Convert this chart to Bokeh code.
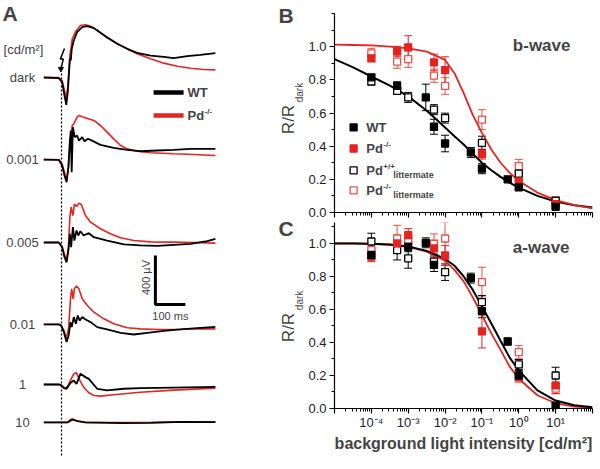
import math
import numpy as np
from bokeh.plotting import figure
from bokeh.layouts import row, column
from bokeh.models import (Range1d, Label, FixedTicker, PrintfTickFormatter,
                          CustomJSTickFormatter, Whisker, TeeHead, ColumnDataSource)
from bokeh.embed import file_html
from bokeh.resources import INLINE

FONT = "Liberation Sans"
RED = "#e52420"
RED_OPEN = "#ec5045"
BLACK = "#000000"

# ---------------- Panel A: ERG traces (time in ms, amplitude in uV) ----------------
row_labels = ["dark", "0.001", "0.005", "0.01", "1", "10"]

dark_wt_t = [-59, -9, 2, 10, 16, 21, 28, 31, 34, 41, 52, 69, 86, 108, 130, 152, 186, 219, 252, 297, 341, 374, 419, 463, 513]
dark_wt_v = [0, -6, -38, -147, -223, -120, 152, 140, 230, 302, 370, 411, 419, 403, 365, 329, 275, 234, 201, 179, 169, 158, 174, 185, 199]
dark_pd_t = [-59, -9, 2, 10, 15, 21, 28, 36, 47, 63, 80, 97, 119, 152, 186, 219, 252, 297, 341, 386, 430, 474, 513]
dark_pd_v = [0, 0, -25, -106, -174, -79, 179, 316, 375, 424, 430, 419, 384, 324, 275, 234, 193, 152, 117, 92, 76, 65, 62]

i001_wt_t = [-59, -9, 2, 10, 17, 23, 28, 31, 34, 38, 44, 52, 58, 69, 77, 88, 97, 130, 174, 219, 263, 319, 374, 430, 513]
i001_wt_v = [0, -2, -49, -130, -185, -62, 155, 237, -103, 264, 183, 196, 155, 183, 150, 169, 161, 120, 95, 79, 68, 74, 79, 87, 87]
i001_pd_t = [-59, -9, 2, 10, 17, 23, 30, 36, 41, 52, 58, 74, 108, 130, 152, 174, 197, 219, 252, 297, 374, 441, 513]
i001_pd_v = [0, -2, -35, -103, -171, -62, 183, 278, 292, 346, 360, 346, 319, 278, 224, 169, 115, 87, 68, 55, 47, 41, 33]

i005_wt_t = [-59, -9, 2, 10, 17, 23, 28, 32, 38, 43, 50, 56, 63, 74, 91, 108, 152, 208, 263, 319, 374, 430, 486, 513]
i005_wt_v = [0, 0, -38, -120, -163, -65, 71, -38, 125, 16, 98, 57, 92, 57, 76, 43, 16, -16, -24, -27, -19, -11, 11, 30]
i005_pd_t = [-59, -9, 2, 10, 17, 23, 28, 32, 38, 43, 50, 58, 66, 80, 97, 130, 163, 197, 241, 297, 374, 441, 513]
i005_pd_v = [0, 0, -33, -98, -142, -38, 207, 288, 220, 315, 294, 321, 310, 220, 166, 112, 71, 38, 16, 5, 3, 0, -5]

i01_wt_t = [-59, -9, -1, 8, 17, 24, 30, 34, 41, 48, 54, 61, 69, 80, 97, 119, 152, 197, 241, 286, 341, 397, 452, 513]
i01_wt_v = [0, 0, -8, -63, -144, -90, 19, -22, 60, 5, 73, 32, 60, 41, 19, -22, -41, -68, -82, -68, -52, -41, -30, -19]
i01_pd_t = [-59, -9, -1, 8, 17, 24, 30, 34, 39, 43, 50, 58, 69, 86, 108, 141, 174, 219, 263, 319, 374, 441, 513]
i01_pd_v = [0, 0, -14, -49, -112, -22, 209, 291, 209, 291, 313, 291, 209, 155, 100, 46, 5, -27, -36, -41, -41, -36, -36]

i1_wt_t = [-59, -9, -1, 8, 17, 24, 32, 41, 50, 63, 80, 91, 119, 152, 208, 263, 374, 513]
i1_wt_v = [0, 0, -5, -30, -35, -8, 19, 33, 5, 87, 60, 46, -35, -49, -35, -30, -25, -19]
i1_pd_t = [-59, -9, 2, 13, 21, 30, 41, 50, 61, 74, 91, 108, 130, 174, 263, 374, 513]
i1_pd_v = [0, 0, -14, -30, -14, 33, 87, 95, 33, -22, -68, -90, -95, -84, -63, -46, -30]

i10_wt_t = [-59, 20, 30, 38, 55, 80, 200, 300, 400, 513]
i10_wt_v = [0, 0, 15, 22, 10, 0, -5, -3, 5, 3]
i10_pd_t = [-59, 20, 28, 36, 50, 80, 200, 300, 400, 513]
i10_pd_v = [0, 0, 20, 30, 12, 0, 0, 2, 5, 5]

scale_bar_uV = 400
scale_bar_ms = 100

# ---------------- Panels B/C: R/Rdark vs background intensity ----------------
# b-wave
b_wt_x = [1e-4, 5e-4, 3e-3, 5e-3, 1e-2, 5e-2, 0.1, 0.5, 1, 10]
b_wt_y = [0.815, 0.763, 0.694, 0.517, 0.416, 0.362, 0.264, 0.20, 0.151, 0.034]
b_wt_e = [0.015, 0.025, 0.08, 0.045, 0.05, 0.03, 0.03, 0.01, 0.01, 0.01]
b_pd_x = [1e-4, 5e-4, 1e-3, 5e-3, 1e-2, 0.1, 1, 10]
b_pd_y = [0.93, 0.972, 0.996, 0.905, 0.859, 0.352, 0.187, 0.05]
b_pd_e = [0.02, 0.03, 0.07, 0.05, 0.08, 0.03, 0.02, 0.01]
b_wtl_x = [1e-4, 5e-4, 1e-3, 5e-3, 1e-2, 0.1, 1, 10]
b_wtl_y = [0.79, 0.734, 0.694, 0.62, 0.569, 0.42, 0.235, 0.07]
b_wtl_e = [0.02, 0.02, 0.03, 0.03, 0.03, 0.04, 0.02, 0.02]
b_pdl_x = [1e-4, 5e-4, 1e-3, 5e-3, 1e-2, 0.1, 1, 10]
b_pdl_y = [0.96, 0.91, 0.925, 0.825, 0.763, 0.56, 0.28, 0.075]
b_pdl_e = [0.03, 0.04, 0.05, 0.04, 0.05, 0.06, 0.04, 0.02]

# a-wave
c_wt_x = [1e-4, 1e-3, 3e-3, 5e-3, 5e-2, 0.1, 0.5, 1, 10]
c_wt_y = [0.93, 0.98, 1.004, 0.87, 0.79, 0.59, 0.406, 0.2, 0.018]
c_wt_e = [0.02, 0.03, 0.03, 0.04, 0.03, 0.04, 0.02, 0.03, 0.01]
c_pd_x = [1e-4, 5e-4, 1e-3, 5e-3, 1e-2, 0.1, 1, 10]
c_pd_y = [0.92, 1.0, 1.05, 0.97, 0.927, 0.467, 0.19, 0.14]
c_pd_e = [0.03, 0.05, 0.04, 0.05, 0.06, 0.1, 0.03, 0.05]
c_wtl_x = [1e-4, 5e-4, 1e-3, 5e-3, 1e-2, 0.1, 1, 10]
c_wtl_y = [1.012, 0.96, 0.91, 0.89, 0.826, 0.645, 0.267, 0.2]
c_wtl_e = [0.05, 0.06, 0.06, 0.04, 0.05, 0.04, 0.03, 0.05]
c_pdl_x = [1e-4, 5e-4, 1e-3, 5e-3, 1e-2, 0.1, 1, 10]
c_pdl_y = [0.96, 1.03, 1.02, 0.998, 1.03, 0.766, 0.341, 0.12]
c_pdl_e = [0.04, 0.08, 0.05, 0.06, 0.1, 0.09, 0.04, 0.03]

# fitted curves
fit_I = [1e-5, 3.2e-5, 1e-4, 3.2e-4, 1e-3, 3.2e-3, 1e-2, 1.8e-2, 3.2e-2, 5.6e-2, 0.1, 0.18, 0.32, 0.56, 1, 3.2, 10, 32, 100]
b_fit_wt = [0.925, 0.875, 0.82, 0.765, 0.70, 0.614, 0.513, 0.46, 0.41, 0.355, 0.30, 0.255, 0.215, 0.18, 0.15, 0.10, 0.066, 0.044, 0.03]
b_fit_pd = [1.012, 1.01, 1.008, 1.0, 0.99, 0.97, 0.92, 0.84, 0.72, 0.59, 0.48, 0.38, 0.30, 0.24, 0.19, 0.12, 0.075, 0.045, 0.025]
c_fit_wt = [1.0, 1.0, 0.998, 0.993, 0.982, 0.955, 0.907, 0.865, 0.80, 0.72, 0.62, 0.515, 0.41, 0.31, 0.23, 0.11, 0.048, 0.02, 0.008]
c_fit_pd = [1.0, 1.0, 0.998, 0.992, 0.98, 0.95, 0.895, 0.84, 0.77, 0.675, 0.565, 0.455, 0.355, 0.255, 0.18, 0.08, 0.032, 0.012, 0.004]

# ======================= Panel A (also hosts the left-side labels of B and C) =======================
A_X = (-203.3, 810.0)
A_Y = (32.6, 3828.4)
pa = figure(width=304, height=465, x_range=Range1d(*A_X), y_range=Range1d(*A_Y),
            x_axis_location=None, y_axis_location=None, output_backend="svg",
            toolbar_location=None, min_border=0)
pa.grid.visible = False
pa.outline_line_color = None

row_offsets = [3200, 2530, 1853, 1184, 694, 384]   # vertical stacking of the rows (uV)
traces = [(dark_wt_t, dark_wt_v, dark_pd_t, dark_pd_v),
          (i001_wt_t, i001_wt_v, i001_pd_t, i001_pd_v),
          (i005_wt_t, i005_wt_v, i005_pd_t, i005_pd_v),
          (i01_wt_t, i01_wt_v, i01_pd_t, i01_pd_v),
          (i1_wt_t, i1_wt_v, i1_pd_t, i1_pd_v),
          (i10_wt_t, i10_wt_v, i10_pd_t, i10_pd_v)]

# stimulus dotted line
pa.line([0, 0], [row_offsets[-1] - 270, row_offsets[0] + 100], line_color="black",
        line_width=1.3, line_dash="2 2")

for k, (lab, off, (wt_t, wt_v, pd_t, pd_v)) in enumerate(zip(row_labels, row_offsets, traces)):
    name = "r%d" % k
    pa.extra_y_ranges[name] = Range1d(A_Y[0] - off, A_Y[1] - off)
    pa.line(pd_t, pd_v, y_range_name=name, line_color=RED, line_width=1.6)
    pa.line(wt_t, wt_v, y_range_name=name, line_color=BLACK, line_width=1.8)
    pa.add_layout(Label(x=-130, y=0, y_range_name=name, text=lab, text_align="center",
                        text_baseline="middle", text_font=FONT, text_font_size="13px"))

# flash symbol
pa.line([10, -4, 6, -2], [3437, 3350, 3350, 3270], line_color="black", line_width=1.5)
pa.scatter([-2], [3270], marker="triangle", angle=math.pi, size=5, color="black")

pa.add_layout(Label(x=-197, y=3722, text="A", text_font=FONT, text_font_size="21px",
                    text_font_style="bold", text_baseline="middle"))
pa.add_layout(Label(x=-193, y=3428, text="[cd/m\u00b2]", text_font=FONT, text_font_size="13px",
                    text_baseline="middle"))

# legend of A
pa.line([307, 407], [3077, 3077], line_color=BLACK, line_width=4.5)
pa.line([307, 407], [2890, 2890], line_color=RED, line_width=4.5)
pa.add_layout(Label(x=420, y=3077, text="WT", text_font=FONT, text_font_size="13px",
                    text_font_style="bold", text_baseline="middle"))
pa.add_layout(Label(x=420, y=2890, text="Pd", text_font=FONT, text_font_size="13px",
                    text_font_style="bold", text_baseline="middle"))
pa.add_layout(Label(x=420, y=2890, x_offset=17, y_offset=4, text="-/-", text_font=FONT,
                    text_font_size="8px", text_font_style="bold", text_baseline="middle"))

# scale bar
sb_t, sb_v = 313, 1347
pa.line([sb_t, sb_t, sb_t + scale_bar_ms], [sb_v + scale_bar_uV, sb_v, sb_v],
        line_color="black", line_width=3)
pa.add_layout(Label(x=283, y=1567, text="400 \u00b5V", angle=math.pi / 2, text_align="center",
                    text_baseline="middle", text_font=FONT, text_font_size="11px"))
pa.add_layout(Label(x=363, y=1257, text="100 ms", text_align="center",
                    text_baseline="middle", text_font=FONT, text_font_size="11px"))

# panel letters and y-axis titles of B and C (placed in the gutter left of B/C)
pa.add_layout(Label(x=723, y=3706, text="B", text_font=FONT, text_font_size="21px",
                    text_font_style="bold", text_baseline="middle"))
pa.add_layout(Label(x=723, y=1971, text="C", text_font=FONT, text_font_size="21px",
                    text_font_style="bold", text_baseline="middle"))
for yc_main, yc_sub in [(2857, 3077), (1159, 1380)]:
    pa.add_layout(Label(x=757, y=yc_main, text="R/R", angle=math.pi / 2, text_align="center",
                        text_baseline="middle", text_font=FONT, text_font_size="17px"))
    pa.add_layout(Label(x=795, y=yc_sub, text="dark", angle=math.pi / 2, text_align="center",
                        text_baseline="middle", text_font=FONT, text_font_size="10px"))

# ======================= Panels B & C =======================
tick_js = """
const e = Math.round(Math.log10(tick));
if (e < -4 || e > 1) return "";
const sup = {"-": "\u207b", "0": "\u2070", "1": "\u00b9", "2": "\u00b2", "3": "\u00b3", "4": "\u2074"};
return "10" + String(e).split("").map(c => sup[c]).join("");
"""

major_x = [1e-5, 1e-4, 1e-3, 1e-2, 1e-1, 1, 10, 100]
minor_x = [m * 10.0 ** e for e in range(-5, 2) for m in range(2, 10)]


def style_axes(p, ytop):
    p.grid.visible = False
    p.outline_line_color = None
    p.background_fill_color = None
    p.yaxis.ticker = FixedTicker(ticks=[0, 0.2, 0.4, 0.6, 0.8, 1.0],
                                 minor_ticks=[round(0.1 * i, 1) for i in range(13) if 0.1 * i <= ytop + 1e-9])
    p.yaxis.formatter = PrintfTickFormatter(format="%.1f")
    for ax in (p.xaxis[0], p.yaxis[0]):
        ax.major_label_text_font = FONT
        ax.major_label_text_font_size = "13px"
        ax.major_label_text_color = "#222222"
        ax.major_tick_out = 5
        ax.major_tick_in = 0
        ax.minor_tick_out = 3
        ax.minor_tick_in = 0
        ax.axis_line_width = 1.2
        ax.major_tick_line_width = 1.2
    p.yaxis.major_label_standoff = 3
    p.xaxis.ticker = FixedTicker(ticks=major_x, minor_ticks=minor_x)


def draw_series(p, x, y, e, color, filled):
    src = ColumnDataSource(dict(x=x, y=y, lo=[a - b for a, b in zip(y, e)],
                                hi=[a + b for a, b in zip(y, e)]))
    p.add_layout(Whisker(source=src, base="x", upper="hi", lower="lo", line_color=color,
                         line_width=1,
                         upper_head=TeeHead(size=8, line_color=color, line_width=1),
                         lower_head=TeeHead(size=8, line_color=color, line_width=1)))
    p.scatter("x", "y", source=src, marker="square", size=7,
              fill_color=color if filled else "white", line_color=color, line_width=1.3)


pb = figure(x_axis_type="log", x_range=Range1d(1e-5, 1e2), y_range=Range1d(0, 1.2),
            width=294, height=222, min_border_left=30, min_border_right=6,
            min_border_top=13, min_border_bottom=10, output_backend="svg", toolbar_location=None)
style_axes(pb, 1.2)
pb.xaxis.formatter = CustomJSTickFormatter(code="return '';")
pb.xaxis.major_label_text_font_size = "0px"
pb.xaxis.major_label_standoff = 0

pb.line(fit_I, b_fit_wt, line_color=BLACK, line_width=2)
pb.line(fit_I, b_fit_pd, line_color=RED, line_width=1.8)
draw_series(pb, b_pdl_x, b_pdl_y, b_pdl_e, RED_OPEN, False)
draw_series(pb, b_wtl_x, b_wtl_y, b_wtl_e, BLACK, False)
draw_series(pb, b_pd_x, b_pd_y, b_pd_e, RED, True)
draw_series(pb, b_wt_x, b_wt_y, b_wt_e, BLACK, True)

pb.add_layout(Label(x=0.69, y=1.01, text="b-wave", text_font=FONT, text_font_size="17px",
                    text_font_style="bold", text_baseline="middle"))

# legend of B
leg_y = [0.513, 0.386, 0.254, 0.133]
leg_specs = [(BLACK, True, "WT", "", ""), (RED, True, "Pd", "-/-", ""),
             (BLACK, False, "Pd", "+/+", "littermate"), (RED_OPEN, False, "Pd", "-/-", "littermate")]
for yy, (col, filled, main, sup, sub) in zip(leg_y, leg_specs):
    pb.scatter([3.3e-5], [yy], marker="square", size=7, fill_color=col if filled else "white",
               line_color=col, line_width=1.3)
    pb.add_layout(Label(x=7.3e-5, y=yy, text=main, text_font=FONT, text_font_size="13px",
                        text_font_style="bold", text_baseline="middle"))
    if sup:
        pb.add_layout(Label(x=7.3e-5, y=yy, x_offset=17, y_offset=4, text=sup, text_font=FONT,
                            text_font_size="8px", text_font_style="bold", text_baseline="middle"))
    if sub:
        pb.add_layout(Label(x=7.3e-5, y=yy, x_offset=27, y_offset=-5, text=sub, text_font=FONT,
                            text_font_size="9px", text_font_style="bold", text_baseline="middle"))

pc = figure(x_axis_type="log", x_range=Range1d(1e-5, 1e2), y_range=Range1d(0, 1.127),
            width=294, height=243, min_border_left=30, min_border_right=6,
            min_border_top=0, min_border_bottom=57, output_backend="svg", toolbar_location=None)
style_axes(pc, 1.1)
pc.xaxis.formatter = CustomJSTickFormatter(code=tick_js)
pc.xaxis.major_label_standoff = 1
pc.xaxis.axis_label = "background light intensity [cd/m\u00b2]"
pc.xaxis.axis_label_text_font = FONT
pc.xaxis.axis_label_text_font_size = "16px"
pc.xaxis.axis_label_text_font_style = "bold"
pc.xaxis.axis_label_standoff = 2

pc.line(fit_I, c_fit_pd, line_color=RED, line_width=1.8)
pc.line(fit_I, c_fit_wt, line_color=BLACK, line_width=2)
draw_series(pc, c_pdl_x, c_pdl_y, c_pdl_e, RED_OPEN, False)
draw_series(pc, c_wtl_x, c_wtl_y, c_wtl_e, BLACK, False)
draw_series(pc, c_pd_x, c_pd_y, c_pd_e, RED, True)
draw_series(pc, c_wt_x, c_wt_y, c_wt_e, BLACK, True)

pc.add_layout(Label(x=0.69, y=0.976, text="a-wave", text_font=FONT, text_font_size="17px",
                    text_font_style="bold", text_baseline="middle"))

layout = row(pa, column(pb, pc, spacing=0), spacing=0)
open("out.html", "w").write(file_html(layout, INLINE, title="ERG background adaptation"))
